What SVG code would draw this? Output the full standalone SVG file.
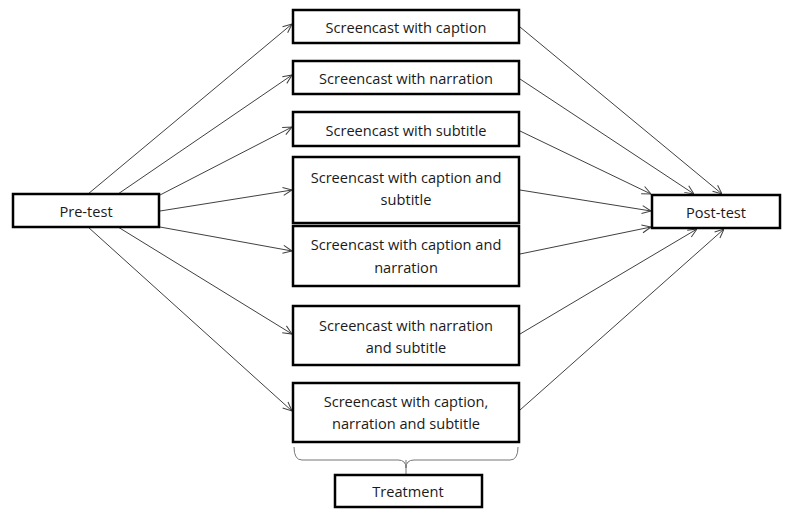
<svg xmlns="http://www.w3.org/2000/svg" width="786" height="509" viewBox="0 0 786 509">
<defs>
<style>
.box{fill:#fff;stroke:#000;stroke-width:2.5}
.t{font-family:"Open Sans","Liberation Sans",sans-serif;font-size:14.6px;fill:#1a1a1a;text-anchor:middle;dominant-baseline:central}
.c{stroke:#404040;stroke-width:1;fill:none;marker-end:url(#ah)}
.br{stroke:#777;stroke-width:1;fill:none}
</style>
<marker id="ah" viewBox="0 0 10 10" refX="10" refY="5" markerWidth="10" markerHeight="10" markerUnits="userSpaceOnUse" orient="auto">
<path d="M1,1 L10,5 L1,9" fill="none" stroke="#404040" stroke-width="1"/>
</marker>
</defs>
<rect width="786" height="509" fill="#fff"/>
<g id="connectors">
<line class="c" x1="88" y1="194" x2="292" y2="24"/>
<line class="c" x1="118" y1="194" x2="292" y2="75"/>
<line class="c" x1="160" y1="195" x2="292" y2="127"/>
<line class="c" x1="160" y1="211" x2="292" y2="190"/>
<line class="c" x1="160" y1="227" x2="292" y2="251"/>
<line class="c" x1="118" y1="227" x2="292" y2="334"/>
<line class="c" x1="88" y1="227" x2="292" y2="411"/>
<line class="c" x1="520" y1="27" x2="722" y2="194"/>
<line class="c" x1="520" y1="79" x2="694" y2="194"/>
<line class="c" x1="520" y1="131" x2="651" y2="194"/>
<line class="c" x1="520" y1="190" x2="651" y2="211"/>
<line class="c" x1="520" y1="254" x2="651" y2="227"/>
<line class="c" x1="520" y1="334" x2="697" y2="229"/>
<line class="c" x1="520" y1="410" x2="724" y2="229"/>
<path class="br" d="M294,447 Q294,460 302,460 L398,460 Q406,460 406,468 Q406,460 414,460 L510,460 Q518,460 518,447"/>
<line class="br" x1="406" y1="460" x2="406" y2="474"/>
</g>
<g id="pretest"><rect class="box" x="13" y="194" width="146" height="33"/><text class="t" x="86" y="211">Pre-test</text></g>
<g id="n1"><rect class="box" x="293" y="10" width="226" height="33"/><text class="t" x="406" y="27">Screencast with caption</text></g>
<g id="n2"><rect class="box" x="293" y="61" width="226" height="33"/><text class="t" x="406" y="78">Screencast with narration</text></g>
<g id="n3"><rect class="box" x="293" y="112" width="226" height="34"/><text class="t" x="406" y="130">Screencast with subtitle</text></g>
<g id="n4"><rect class="box" x="293" y="157" width="226" height="66"/><text class="t" x="406" y="177">Screencast with caption and</text><text class="t" x="406" y="199">subtitle</text></g>
<g id="n5"><rect class="box" x="293" y="226" width="226" height="60"/><text class="t" x="406" y="244">Screencast with caption and</text><text class="t" x="406" y="267">narration</text></g>
<g id="n6"><rect class="box" x="293" y="306" width="226" height="59"/><text class="t" x="406" y="325">Screencast with narration</text><text class="t" x="406" y="347">and subtitle</text></g>
<g id="n7"><rect class="box" x="293" y="383" width="226" height="59"/><text class="t" x="406" y="401">Screencast with caption,</text><text class="t" x="406" y="423">narration and subtitle</text></g>
<g id="posttest"><rect class="box" x="652" y="195" width="128" height="33"/><text class="t" x="716" y="212">Post-test</text></g>
<g id="treatment"><rect class="box" x="335" y="475" width="147" height="32"/><text class="t" x="408" y="491">Treatment</text></g>
</svg>
